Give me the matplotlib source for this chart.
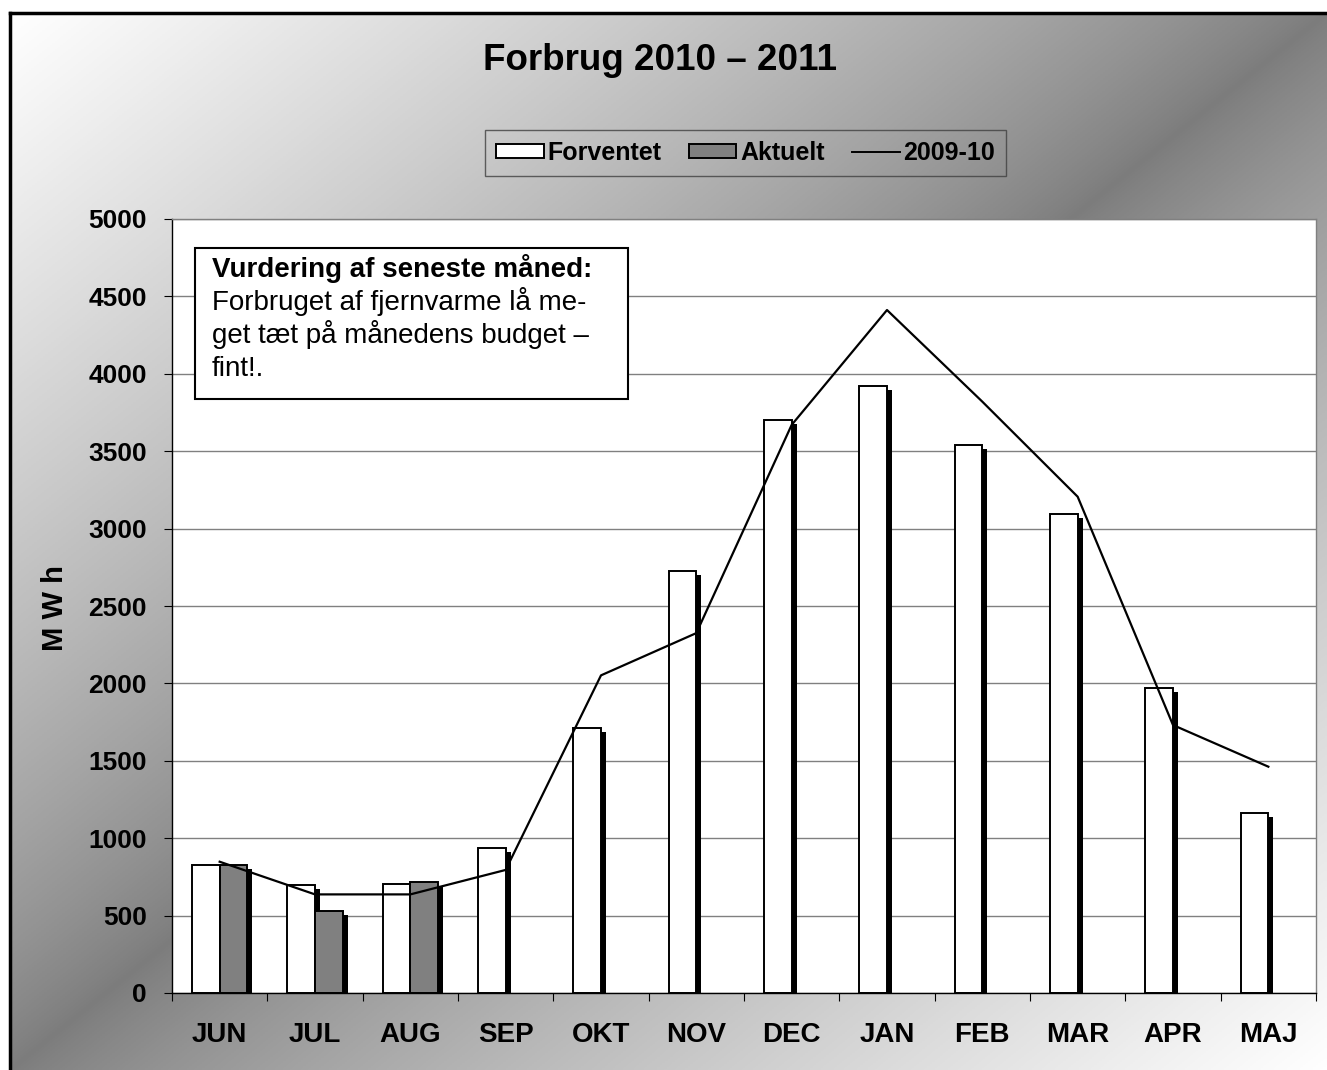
import numpy as np
import matplotlib.pyplot as plt
import matplotlib.patheffects as pe
from matplotlib.patches import Rectangle, Patch
from matplotlib.lines import Line2D
from matplotlib.colors import LinearSegmentedColormap

plt.rcParams['font.family'] = ['Liberation Sans', 'DejaVu Sans']
plt.rcParams['font.weight'] = 'bold'

# data (MWh)
months = ["JUN", "JUL", "AUG", "SEP", "OKT", "NOV", "DEC", "JAN", "FEB", "MAR", "APR", "MAJ"]
forventet = [828, 700, 706, 935, 1712, 2726, 3702, 3921, 3540, 3094, 1970, 1165]
aktuelt = [825, 530, 715]  # only first three months so far
sidste_aar = [848, 637, 637, 795, 2052, 2325, 3670, 4412, 3820, 3206, 1731, 1462]
yticks = list(range(0, 5001, 500))

W, H = 1327, 1070
fig = plt.figure(figsize=(W / 100, H / 100), dpi=100)

# diagonal gradient background inside the frame
bg = fig.add_axes([10 / W, 0, 1 - 10 / W, 1 - 13 / H])
gx, gy = np.meshgrid(np.linspace(0, 1, 500), np.linspace(0, 1, 500))
grad = np.abs(gx + gy - 1) ** 0.8
cmap = LinearSegmentedColormap.from_list('grå', ['#7c7c7c', '#ffffff'])
bg.imshow(grad, cmap=cmap, aspect='auto', vmin=0, vmax=1)
bg.axis('off')

# thick frame (left + top visible)
fig.add_artist(Line2D([9.5 / W, 9.5 / W], [0, 1 - 12.5 / H], color='black', lw=2.5, transform=fig.transFigure))
fig.add_artist(Line2D([9.5 / W, 1], [1 - 12.5 / H, 1 - 12.5 / H], color='black', lw=2.5, transform=fig.transFigure))

ax = fig.add_axes([172 / W, 1 - 993 / H, (1316 - 172) / W, (993 - 219) / H])
ax.set_facecolor('white')

x = np.arange(len(months))
w = 0.29
shadow = [pe.SimplePatchShadow(offset=(3.6, -2.9), shadow_rgbFace='black', alpha=1.0), pe.Normal()]
ax.bar(x - w / 2, forventet, w, color='white', edgecolor='black', lw=1.4, path_effects=shadow, zorder=2)
ax.bar(x[:len(aktuelt)] + w / 2, aktuelt, w, color='#808080', edgecolor='black', lw=1.4,
       path_effects=shadow, zorder=2)
ax.plot(x, sidste_aar, color='black', lw=1.6, zorder=3)

ax.set_xlim(-0.5, len(months) - 0.5)
ax.set_ylim(0, 5000)
ax.set_yticks(yticks)
ax.yaxis.grid(True, color='#808080', lw=1)
ax.set_axisbelow(True)
ax.set_xticks(x)
ax.set_xticklabels(months)
ax.set_xticks(np.arange(-0.5, len(months), 1), minor=True)
ax.tick_params(axis='x', which='major', length=0, pad=21, labelsize=20)
ax.tick_params(axis='x', which='minor', length=6, width=0.8, direction='out')
ax.tick_params(axis='y', length=6, width=0.8, direction='out', pad=12, labelsize=19)

for s in ['left', 'bottom']:
    ax.spines[s].set_color('black')
    ax.spines[s].set_linewidth(1)
for s in ['top', 'right']:
    ax.spines[s].set_color('#808080')
    ax.spines[s].set_linewidth(1)

# comment box
ax.add_patch(Rectangle((0.0201, 0.7674), 0.3785, 0.1951, transform=ax.transAxes,
                       fc='white', ec='black', lw=1.5, zorder=4))
ax.text(0.035, 0.9251, 'Vurdering af seneste måned:', transform=ax.transAxes,
        fontsize=20, weight='bold', va='baseline', zorder=5)
body = ['Forbruget af fjernvarme lå me-', 'get tæt på månedens budget –', 'fint!.']
for i, line in enumerate(body):
    ax.text(0.035, 0.8824 - i * 0.0426, line, transform=ax.transAxes,
            fontsize=20, weight='normal', va='baseline', zorder=5)

fig.text(660 / W, 1 - 60 / H, 'Forbrug 2010 – 2011', ha='center', va='center', fontsize=26.5, weight='bold')
fig.text(55 / W, 1 - 608 / H, 'M W h', ha='center', va='center', rotation=90, fontsize=21, weight='bold')

handles = [Patch(fc='white', ec='black', lw=1.4),
           Patch(fc='#808080', ec='black', lw=1.4),
           Line2D([], [], color='black', lw=1.4)]
leg = fig.legend(handles, ['Forventet', 'Aktuelt', '2009-10'], loc='center',
                 bbox_to_anchor=(745.5 / W, 1 - 153 / H), ncol=3, frameon=True, fancybox=False,
                 edgecolor='#404040', facecolor='none', fontsize=18, handlelength=1.9,
                 handleheight=0.5, handletextpad=0.15, columnspacing=1.1, borderpad=0.45,
                 borderaxespad=0)
leg.get_frame().set_linewidth(1)
leg._legend_box.sep = 0

fig.savefig('out.png', dpi=100)
